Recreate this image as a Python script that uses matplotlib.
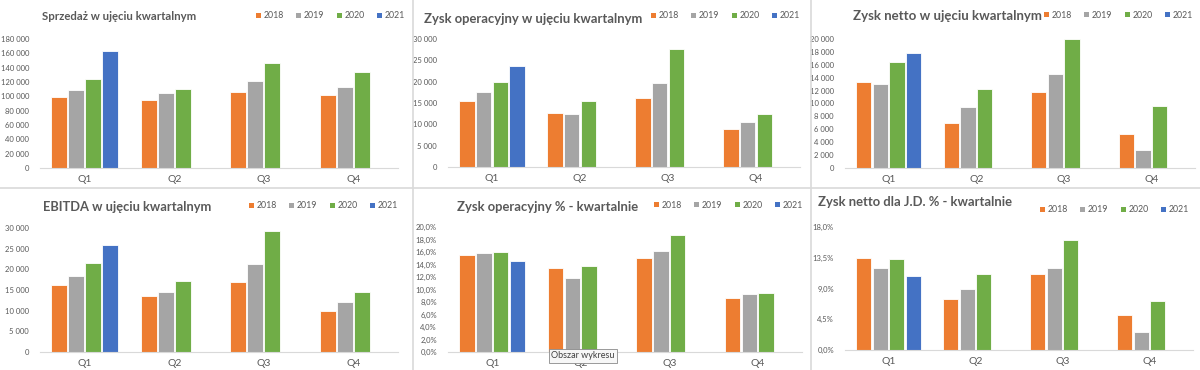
import numpy as np
import matplotlib.pyplot as plt
from matplotlib.patches import Patch
from matplotlib.ticker import FuncFormatter

plt.rcParams['font.family'] = ['Lato', 'DejaVu Sans']

QUARTERS = ['Q1', 'Q2', 'Q3', 'Q4']
YEARS = ['2018', '2019', '2020', '2021']
COLORS = ['#ED7D31', '#A5A5A5', '#70AD47', '#4472C4']
NAN = np.nan

# Sprzedaz
sales_2018 = [98600, 94900, 106000, 102300]
sales_2019 = [109300, 104700, 120900, 113000]
sales_2020 = [124200, 110700, 146500, 134400]
sales_2021 = [162800, NAN, NAN, NAN]

# Zysk operacyjny
op_2018 = [15400, 12700, 16200, 8800]
op_2019 = [17500, 12500, 19800, 10500]
op_2020 = [20000, 15400, 27600, 12500]
op_2021 = [23700, NAN, NAN, NAN]

# Zysk netto
net_2018 = [13300, 7000, 11800, 5300]
net_2019 = [13000, 9500, 14500, 2850]
net_2020 = [16500, 12300, 20000, 9550]
net_2021 = [17800, NAN, NAN, NAN]

# EBITDA
ebitda_2018 = [16250, 13500, 17050, 9970]
ebitda_2019 = [18500, 14400, 21300, 12200]
ebitda_2020 = [21650, 17100, 29350, 14550]
ebitda_2021 = [25950, NAN, NAN, NAN]

# Zysk operacyjny %
opm_2018 = [15.6, 13.4, 15.0, 8.6]
opm_2019 = [15.9, 11.9, 16.2, 9.3]
opm_2020 = [16.0, 13.7, 18.7, 9.4]
opm_2021 = [14.5, NAN, NAN, NAN]

# Zysk netto dla J.D. %
npm_2018 = [13.5, 7.4, 11.05, 5.15]
npm_2019 = [12.0, 9.0, 12.0, 2.6]
npm_2020 = [13.35, 11.05, 16.1, 7.2]
npm_2021 = [10.9, NAN, NAN, NAN]


def thousands(v, pos):
    return '{:,.0f}'.format(v).replace(',', ' ')


def pct1(v, pos):
    return '{:.1f}%'.format(v).replace('.', ',')


W, H = 1200, 370
fig = plt.figure(figsize=(12, 3.7), dpi=100)

# spreadsheet panel borders
fig.add_artist(plt.Line2D([0, 1], [1 - 188 / H] * 2, color='#d9d9d9', lw=1.2))
for x in (413, 811):
    fig.add_artist(plt.Line2D([x / W] * 2, [0, 1], color='#d9d9d9', lw=1.2))


def panel(series, box, ymax, step, fmt, title, tpos, tsize, lpos):
    x0, x1, ytop, yzero = box
    ax = fig.add_axes([x0 / W, 1 - yzero / H, (x1 - x0) / W, (yzero - ytop) / H])
    x = np.arange(len(QUARTERS))
    bw = 0.175
    for i, vals in enumerate(series):
        ax.bar(x + (i - 1.5) * 0.19, vals, width=bw, color=COLORS[i],
               edgecolor='white', linewidth=0.6, zorder=2)
    ax.set_xlim(-0.5, 3.5)
    ax.set_ylim(0, ymax)
    ax.set_yticks(np.arange(0, ymax + step / 2, step))
    ax.yaxis.set_major_formatter(FuncFormatter(fmt))
    ax.set_xticks(x)
    ax.set_xticklabels(QUARTERS)
    ax.tick_params(axis='y', length=0, labelsize=5.5, labelcolor='#595959', pad=8)
    ax.tick_params(axis='x', length=0, labelsize=7.5, labelcolor='#595959', pad=5)
    for s in ('top', 'right', 'left'):
        ax.spines[s].set_visible(False)
    ax.spines['bottom'].set_color('#d9d9d9')
    fig.text(tpos[0] / W, 1 - tpos[1] / H, title, fontsize=tsize, fontweight='bold',
             color='#595959', ha='left', va='center')
    handles = [Patch(facecolor=c, edgecolor='none') for c in COLORS]
    fig.legend(handles, YEARS, loc='center right', ncol=4, frameon=False,
               bbox_to_anchor=(lpos[0] / W, 1 - lpos[1] / H),
               fontsize=6.3, labelcolor='#595959', handlelength=0.55, handleheight=0.55,
               handletextpad=0.3, columnspacing=1.45, borderaxespad=0, borderpad=0)
    return ax


panel([sales_2018, sales_2019, sales_2020, sales_2021], (40, 398, 39, 168),
      180000, 20000, thousands, 'Sprzedaż w ujęciu kwartalnym', (42, 17), 8.2, (405, 16))
panel([op_2018, op_2019, op_2020, op_2021], (448, 800, 39, 167),
      30000, 5000, thousands, 'Zysk operacyjny w ujęciu kwartalnym', (424, 19), 9.4, (800, 16))
panel([net_2018, net_2019, net_2020, net_2021], (845, 1195, 39, 168),
      20000, 2000, thousands, 'Zysk netto w ujęciu kwartalnym', (853, 16), 9.5, (1193, 15))
panel([ebitda_2018, ebitda_2019, ebitda_2020, ebitda_2021], (40, 398, 228, 352),
      30000, 5000, thousands, 'EBITDA w ujęciu kwartalnym', (43, 207), 9.3, (398, 206))
panel([opm_2018, opm_2019, opm_2020, opm_2021], (448, 802, 227, 352),
      20, 2, pct1, 'Zysk operacyjny % - kwartalnie', (457, 207), 9.4, (803, 205))
panel([npm_2018, npm_2019, npm_2020, npm_2021], (845, 1193, 227, 350),
      18, 4.5, pct1, 'Zysk netto dla J.D. % - kwartalnie', (818, 202), 9.4, (1189, 210))

# tooltip from the screenshot
fig.text(551 / W, 1 - 356 / H, 'Obszar wykresu', fontsize=6.5, color='#404040',
         ha='left', va='center',
         bbox=dict(boxstyle='square,pad=0.25', facecolor='#f7f7f7', edgecolor='#8a8a8a', lw=0.6))

fig.savefig('out.png', dpi=100, facecolor='white')
